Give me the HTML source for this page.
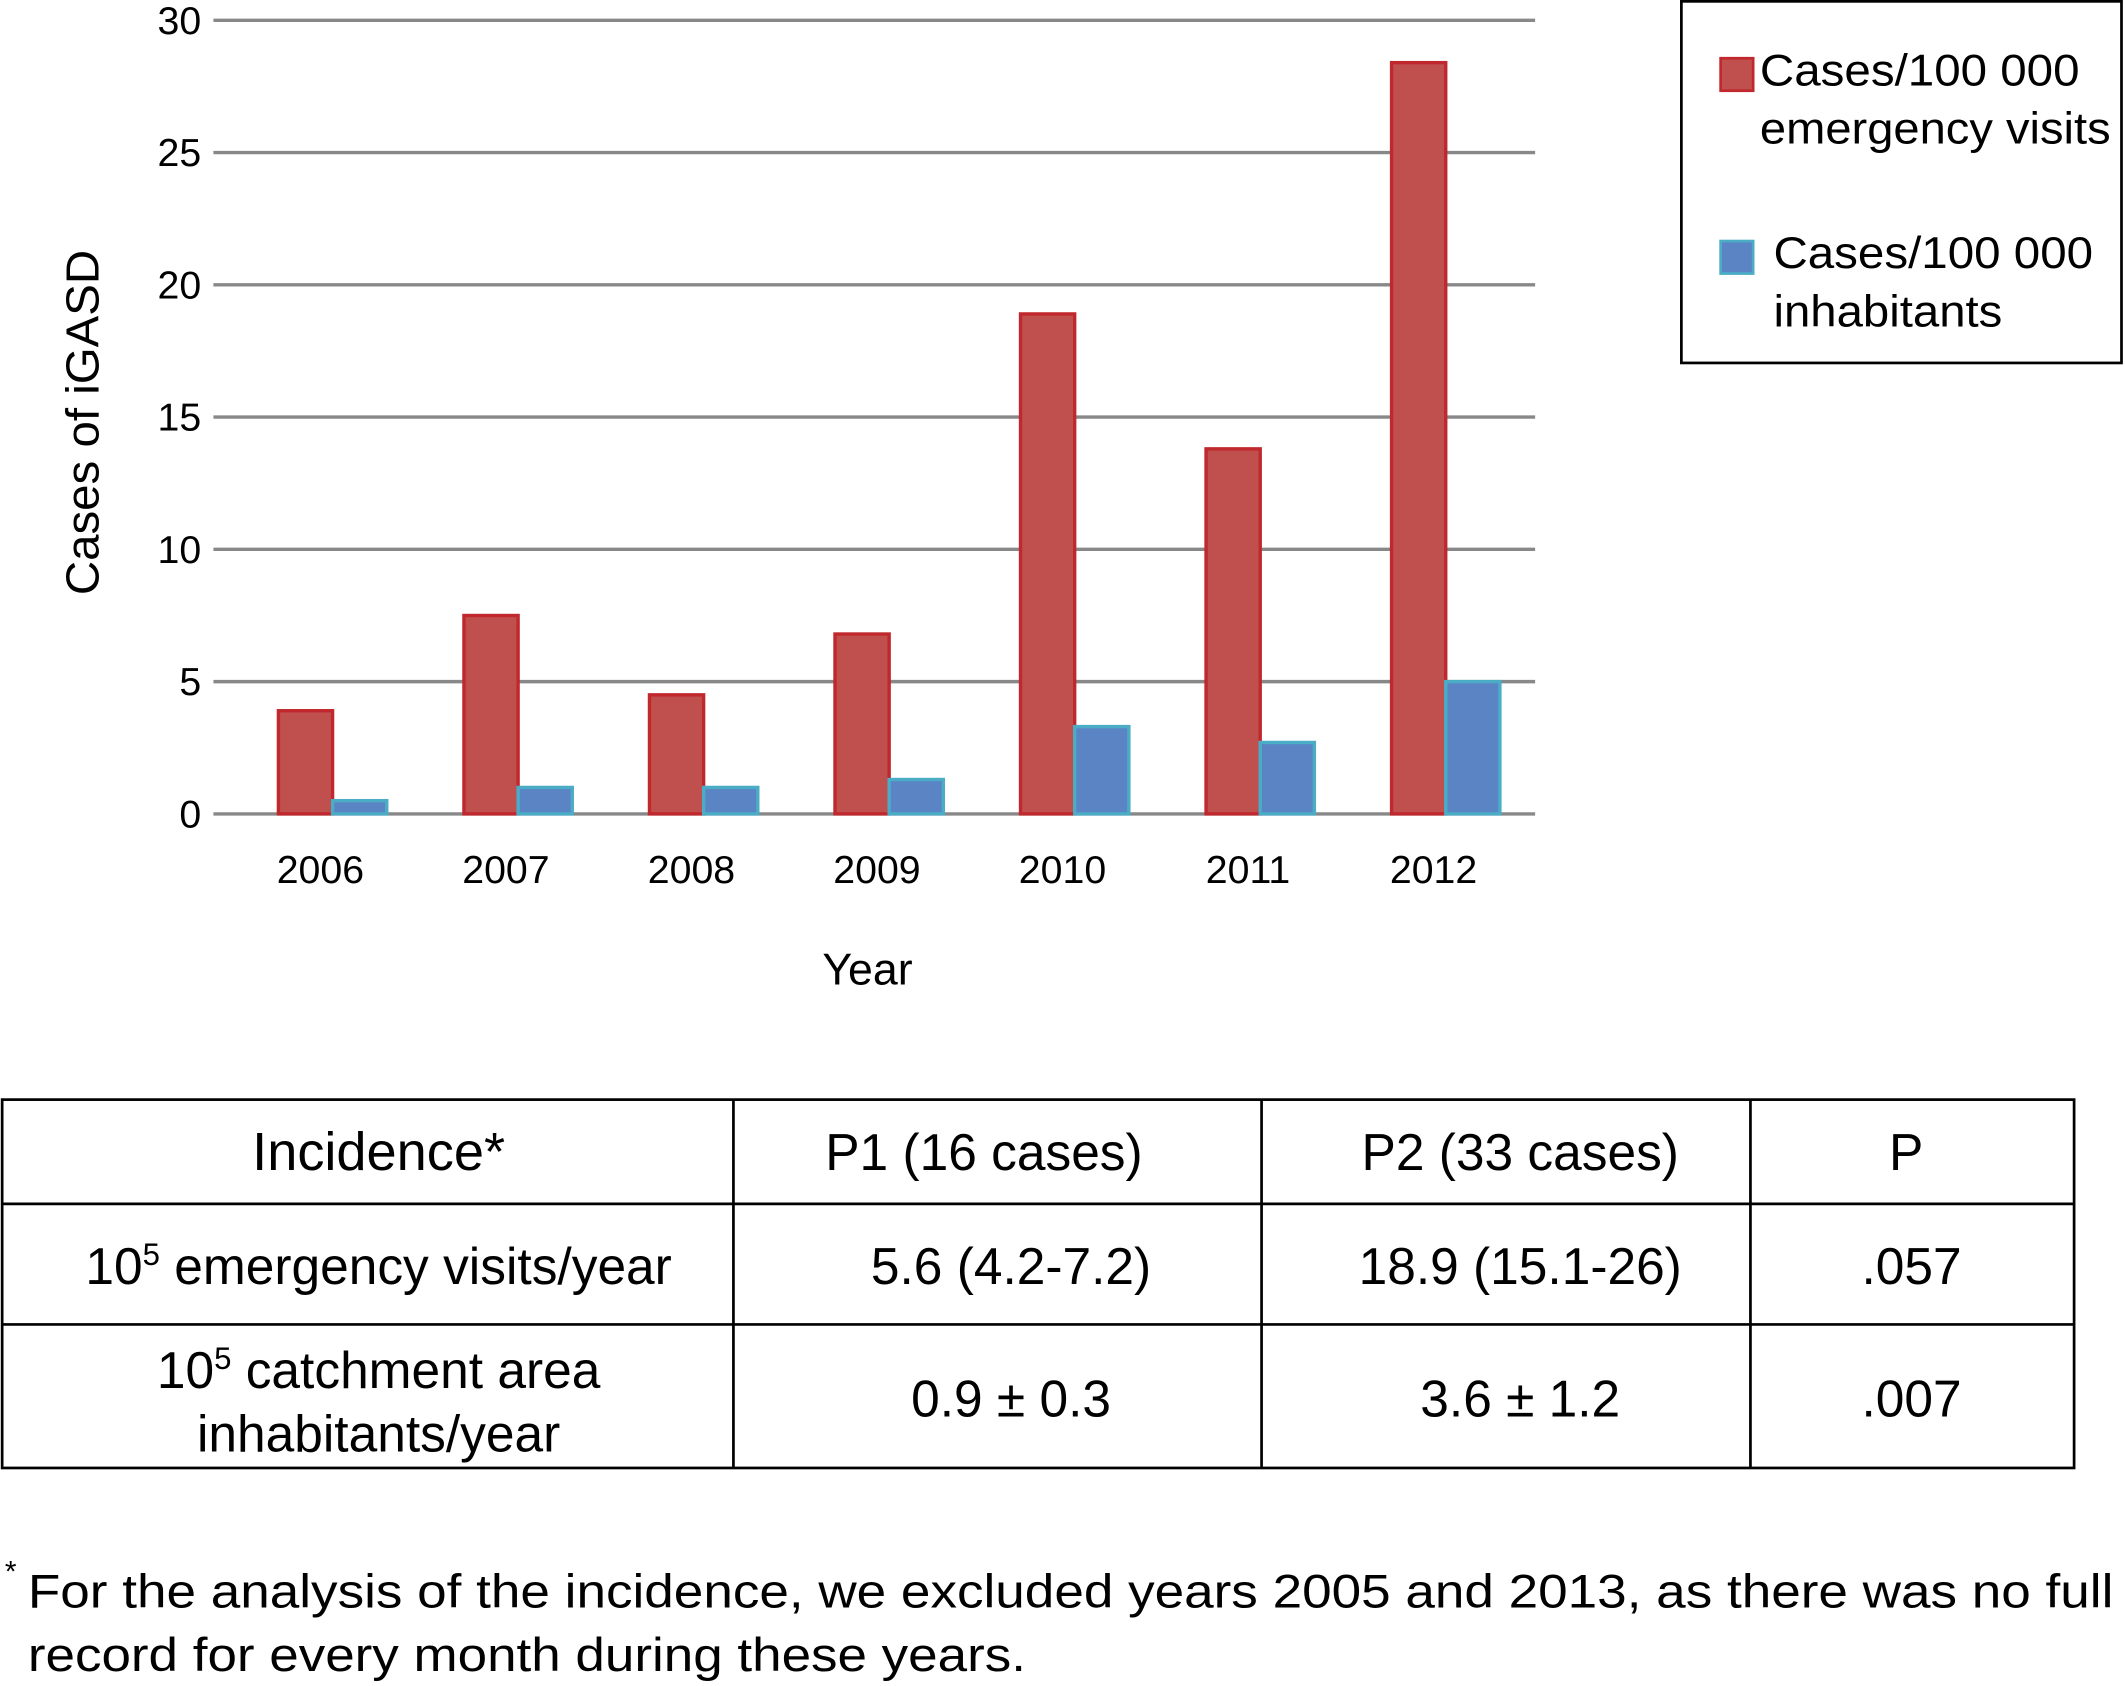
<!DOCTYPE html>
<html><head><meta charset="utf-8"><style>
html,body{margin:0;padding:0;background:#fff}
svg{display:block;font-family:"Liberation Sans",Arial,sans-serif}
</style></head><body>
<svg id="chart" width="2125" height="1686" viewBox="0 0 1568 1245" xmlns="http://www.w3.org/2000/svg">
<g id="grid"></g>
<g id="bars"></g>
<g id="labels"></g>
<text transform="translate(72,312) rotate(-90)" text-anchor="middle" font-size="34" textLength="255" lengthAdjust="spacingAndGlyphs">Cases of iGASD</text>
<text x="640" y="727" text-anchor="middle" font-size="33">Year</text>
<g>
<rect x="1241" y="1" width="325" height="267" fill="#fff" stroke="#000" stroke-width="2"/>
<rect x="1270" y="43" width="24" height="24" fill="#c0504d" stroke="#c0282d" stroke-width="2"/>
<text font-size="33"><tspan x="1299" y="63" textLength="236" lengthAdjust="spacingAndGlyphs">Cases/100 000</tspan><tspan x="1299" y="106" textLength="259" lengthAdjust="spacingAndGlyphs">emergency visits</tspan></text>
<rect x="1270" y="178" width="24" height="24" fill="#5b84c4" stroke="#4bacc6" stroke-width="2"/>
<text font-size="33"><tspan x="1309" y="198" textLength="236" lengthAdjust="spacingAndGlyphs">Cases/100 000</tspan><tspan x="1309" y="241" textLength="169" lengthAdjust="spacingAndGlyphs">inhabitants</tspan></text>
</g>
<g font-size="38" text-anchor="middle">
<rect x="1" y="812" width="1530" height="272" fill="none" stroke="#000" stroke-width="2"/>
<line x1="1" y1="889" x2="1531" y2="889" stroke="#000" stroke-width="2"/>
<line x1="1" y1="978" x2="1531" y2="978" stroke="#000" stroke-width="2"/>
<line x1="541" y1="812" x2="541" y2="1084" stroke="#000" stroke-width="2"/>
<line x1="931" y1="812" x2="931" y2="1084" stroke="#000" stroke-width="2"/>
<line x1="1292" y1="812" x2="1292" y2="1084" stroke="#000" stroke-width="2"/>
<text x="279" y="864" font-size="40">Incidence*</text>
<text x="726" y="864">P1 (16 cases)</text>
<text x="1122" y="864">P2 (33 cases)</text>
<text x="1407" y="864">P</text>
<text x="279" y="948">10<tspan font-size="23" dy="-14">5</tspan><tspan dy="14"> emergency visits/year</tspan></text>
<text x="746" y="948">5.6 (4.2-7.2)</text>
<text x="1122" y="948">18.9 (15.1-26)</text>
<text x="1411" y="948">.057</text>
<text x="279" y="1025">10<tspan font-size="23" dy="-14">5</tspan><tspan dy="14"> catchment area</tspan></text>
<text x="279" y="1072">inhabitants/year</text>
<text x="746" y="1046">0.9 ± 0.3</text>
<text x="1122" y="1046">3.6 ± 1.2</text>
<text x="1411" y="1046">.007</text>
</g>
<g font-size="35">
<text x="3" y="1168" font-size="22">*</text>
<text x="20" y="1187" textLength="1540" lengthAdjust="spacingAndGlyphs">For the analysis of the incidence, we excluded years 2005 and 2013, as there was no full</text>
<text x="20" y="1234" textLength="737" lengthAdjust="spacingAndGlyphs">record for every month during these years.</text>
</g>
</svg>
<script>
const categories = ["2006","2007","2008","2009","2010","2011","2012"];
const emergencyValues = [3.9, 7.5, 4.5, 6.8, 18.9, 13.8, 28.4];
const inhabitantValues = [0.5, 1.0, 1.0, 1.3, 3.3, 2.7, 5.0];
const yTicks = [0, 5, 10, 15, 20, 25, 30];

const NS = "http://www.w3.org/2000/svg";
const x0 = 163, x1 = 1133, yBase = 601, yTop = 15, yMax = 30;
const slot = 137;
function yScale(v){ return yBase - (v / yMax) * (yBase - yTop); }
function xSlot(i){ return 163 + i * slot; }
function mk(tag, attrs, parent){
  const e = document.createElementNS(NS, tag);
  for (const k in attrs) e.setAttribute(k, attrs[k]);
  parent.appendChild(e); return e;
}
const grid = document.getElementById("grid");
const labels = document.getElementById("labels");
const bars = document.getElementById("bars");
yTicks.forEach(t => {
  const y = yScale(t);
  const l = mk("line", {x1: x0 - 6, x2: x1, y1: y, y2: y, stroke: "#888", "stroke-width": 2.5}, grid);
  
  
  const tx = mk("text", {x: 148, y: y + 10, "text-anchor": "end", "font-size": 29}, labels);
  tx.textContent = t;
  
  
});
categories.forEach((c, i) => {
  const s = xSlot(i);
  const r = mk("rect", {x: s + 42, y: yScale(emergencyValues[i]), width: 40, height: yBase - yScale(emergencyValues[i]), fill: "#c0504d", stroke: "#c0282d", "stroke-width": 2.5}, bars);
  
  
  const b = mk("rect", {x: s + 82, y: yScale(inhabitantValues[i]), width: 40, height: yBase - yScale(inhabitantValues[i]), fill: "#5b84c4", stroke: "#4bacc6", "stroke-width": 2.5}, bars);
  
  
  const tx = mk("text", {x: s + 73, y: 652, "text-anchor": "middle", "font-size": 29}, labels);
  tx.textContent = c;
  
  
});
</script>
</body></html>
